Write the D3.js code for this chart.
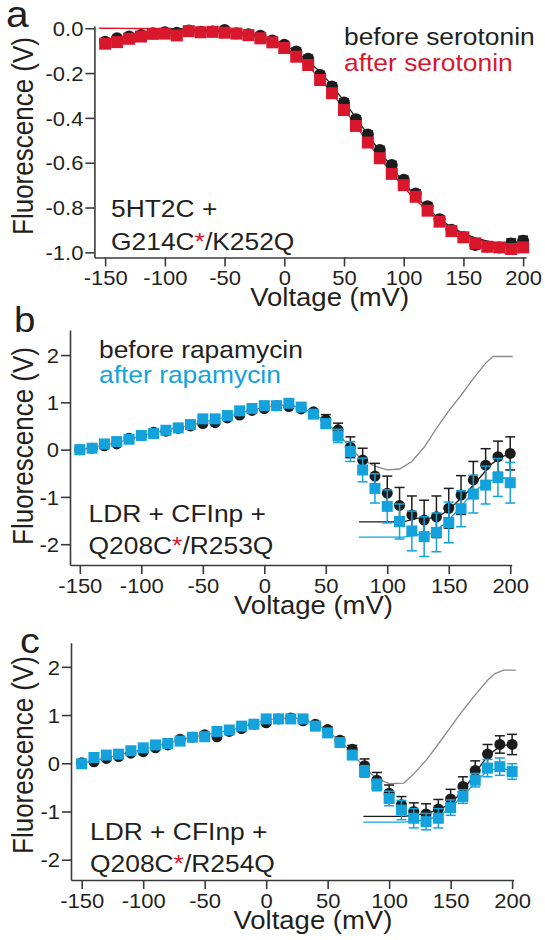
<!DOCTYPE html>
<html>
<head>
<meta charset="utf-8">
<script src="https://cdn.jsdelivr.net/npm/d3@7"></script>
<style>
  html, body { margin: 0; padding: 0; background: #fff; }
  svg { display: block; font-family: "Liberation Sans", Arial, Helvetica, sans-serif; }
</style>
</head>
<body>
<svg id="fig" width="545" height="940"></svg>
<script>
// ---- step voltages (mV) ----
const volts = [-150,-140,-130,-120,-110,-100,-90,-80,-70,-60,-50,-40,-30,-20,-10,0,10,20,30,40,50,60,70,80,90,100,110,120,130,140,150,160,170,180,190,200];

// ---- tick marks ----
const xTicks = [-150,-100,-50,0,50,100,150,200];
const xTickLabels = ["-150","-100","-50","0","50","100","150","200"];
const yTicksA = [0,-0.2,-0.4,-0.6,-0.8,-1.0];
const yTickLabelsA = ["0.0","-0.2","-0.4","-0.6","-0.8","-1.0"];
const yTicksBC = [2,1,0,-1,-2];
const yTickLabelsBC = ["2","1","0","-1","-2"];

// ---- panel a: 5HT2C + G214C*/K252Q ----
const beforeSerotonin = [-0.060,-0.045,-0.037,-0.030,-0.022,-0.018,-0.020,-0.010,-0.016,-0.015,-0.008,-0.022,-0.027,-0.033,-0.055,-0.074,-0.104,-0.136,-0.209,-0.260,-0.331,-0.406,-0.474,-0.543,-0.610,-0.676,-0.737,-0.794,-0.852,-0.899,-0.932,-0.967,-0.974,-0.978,-0.960,-0.948];
const beforeSerotoninErr = [0.012,0.012,0.012,0.012,0.012,0.012,0.012,0.012,0.012,0.012,0.012,0.012,0.012,0.012,0.014,0.014,0.015,0.016,0.016,0.016,0.016,0.016,0.016,0.016,0.016,0.016,0.016,0.016,0.016,0.016,0.018,0.018,0.018,0.018,0.020,0.020];
const afterSerotonin = [-0.069,-0.062,-0.047,-0.037,-0.025,-0.024,-0.032,-0.013,-0.018,-0.016,-0.020,-0.024,-0.031,-0.045,-0.063,-0.088,-0.127,-0.164,-0.231,-0.290,-0.365,-0.436,-0.510,-0.580,-0.650,-0.700,-0.752,-0.814,-0.863,-0.905,-0.933,-0.960,-0.975,-0.978,-0.985,-0.978];
const afterSerotoninErr = [0.010,0.010,0.010,0.010,0.010,0.010,0.010,0.010,0.010,0.010,0.010,0.010,0.010,0.010,0.010,0.010,0.010,0.010,0.010,0.010,0.010,0.010,0.010,0.010,0.010,0.010,0.010,0.010,0.010,0.010,0.010,0.010,0.010,0.010,0.010,0.010];
// Boltzmann fits
const fitBeforeSerV = [-100,-80,-60,-40,-20,-10,0,10,20,30,40,50,60,70,80,90,100,110,120,130,140,150,160,170,180,190,200];
const fitBeforeSer  = [-0.002,-0.004,-0.008,-0.016,-0.035,-0.050,-0.075,-0.105,-0.145,-0.195,-0.255,-0.325,-0.400,-0.475,-0.550,-0.620,-0.690,-0.750,-0.805,-0.850,-0.888,-0.915,-0.935,-0.950,-0.960,-0.965,-0.970];
const fitAfterSerV = [-155,-100,-80,-60,-40,-20,-10,0,10,20,30,40,50,60,70,80,90,100,110,120,130,140,150,160,170,180,190,200];
const fitAfterSer  = [0.000,-0.002,-0.005,-0.010,-0.020,-0.042,-0.060,-0.088,-0.125,-0.170,-0.225,-0.290,-0.360,-0.435,-0.510,-0.580,-0.645,-0.710,-0.765,-0.815,-0.858,-0.893,-0.920,-0.940,-0.955,-0.965,-0.972,-0.977];

// ---- panel b: LDR + CFInp + Q208C*/R253Q ----
const beforeRapB = [0.00,0.03,0.08,0.12,0.24,0.30,0.37,0.39,0.45,0.50,0.55,0.57,0.67,0.73,0.83,0.87,0.93,0.91,0.86,0.80,0.63,0.42,0.05,-0.22,-0.56,-0.92,-1.18,-1.38,-1.49,-1.42,-1.24,-0.96,-0.64,-0.33,-0.15,-0.08];
const beforeRapBErr = [0.03,0.03,0.03,0.03,0.03,0.03,0.03,0.03,0.03,0.03,0.03,0.03,0.03,0.03,0.03,0.03,0.03,0.03,0.04,0.05,0.11,0.14,0.22,0.25,0.27,0.36,0.38,0.40,0.42,0.44,0.42,0.41,0.39,0.35,0.33,0.35];
const afterRapB = [0.00,0.03,0.12,0.17,0.22,0.30,0.34,0.41,0.46,0.53,0.65,0.65,0.72,0.82,0.87,0.93,0.93,0.98,0.90,0.75,0.55,0.29,-0.04,-0.43,-0.82,-1.20,-1.52,-1.72,-1.84,-1.75,-1.54,-1.25,-0.94,-0.75,-0.59,-0.70];
const afterRapBErr = [0.03,0.03,0.03,0.03,0.03,0.03,0.03,0.03,0.03,0.03,0.03,0.03,0.03,0.03,0.03,0.03,0.03,0.03,0.04,0.06,0.10,0.14,0.21,0.25,0.31,0.35,0.37,0.42,0.42,0.41,0.43,0.38,0.40,0.40,0.40,0.43];
const refBV = [-150,-120,-90,-60,-30,0,20,30,40,50,60,70,80,90,100,110,120,130,140,150,160,170,180,186,202];
const refB  = [0.00,0.15,0.36,0.52,0.70,0.90,0.95,0.88,0.78,0.58,0.35,0.03,-0.22,-0.35,-0.43,-0.41,-0.25,0.05,0.45,0.82,1.15,1.50,1.83,1.97,1.97];
const fitBeforeBV = [77,113,125,135,145,155,165,175,185,195,203];
const fitBeforeB  = [-1.53,-1.53,-1.45,-1.45,-1.36,-1.15,-0.90,-0.60,-0.30,-0.13,-0.07];
const fitAfterBV = [77,113,125,135,145,155,165,175,185,195,203];
const fitAfterB  = [-1.85,-1.85,-1.80,-1.78,-1.60,-1.35,-1.05,-0.80,-0.65,-0.60,-0.65];

// ---- panel c: LDR + CFInp + Q208C*/R254Q ----
const beforeRapC = [0.01,0.03,0.10,0.14,0.21,0.24,0.32,0.38,0.50,0.54,0.59,0.55,0.66,0.72,0.81,0.84,0.92,0.94,0.88,0.81,0.70,0.48,0.29,-0.05,-0.35,-0.62,-0.86,-1.00,-1.05,-0.95,-0.74,-0.48,-0.15,0.19,0.39,0.39];
const beforeRapCErr = [0.03,0.03,0.03,0.03,0.03,0.03,0.03,0.03,0.03,0.03,0.03,0.03,0.03,0.03,0.03,0.03,0.03,0.03,0.03,0.04,0.05,0.06,0.08,0.14,0.16,0.17,0.17,0.18,0.21,0.20,0.20,0.20,0.20,0.20,0.18,0.21];
const afterRapC = [-0.01,0.12,0.17,0.19,0.26,0.32,0.38,0.41,0.46,0.54,0.55,0.66,0.69,0.77,0.81,0.92,0.92,0.92,0.92,0.77,0.63,0.43,0.17,-0.17,-0.45,-0.73,-0.97,-1.14,-1.21,-1.14,-0.92,-0.69,-0.35,-0.10,-0.07,-0.17];
const afterRapCErr = [0.03,0.03,0.03,0.03,0.03,0.03,0.03,0.03,0.03,0.03,0.03,0.03,0.03,0.03,0.03,0.03,0.03,0.03,0.03,0.04,0.05,0.06,0.08,0.12,0.12,0.15,0.20,0.20,0.17,0.20,0.16,0.14,0.14,0.18,0.18,0.16];
const refCV = [-150,-120,-90,-60,-30,0,20,30,40,50,60,70,80,90,100,112,120,130,140,150,160,170,180,186,193,203];
const refC  = [0.00,0.17,0.35,0.54,0.68,0.90,0.94,0.92,0.80,0.67,0.46,0.22,-0.10,-0.32,-0.42,-0.41,-0.22,0.06,0.40,0.75,1.10,1.42,1.72,1.86,1.93,1.93];
const fitBeforeCV = [79,112,120,130,140,150,160,170,180,190,200];
const fitBeforeC  = [-1.10,-1.10,-1.08,-1.04,-0.97,-0.83,-0.58,-0.20,0.15,0.35,0.40];
const fitAfterCV = [79,112,120,130,140,150,160,170,180,190,200];
const fitAfterC  = [-1.22,-1.22,-1.20,-1.18,-1.10,-0.92,-0.68,-0.40,-0.15,-0.10,-0.15];

// ---- styling ----
const RED = "#d8172d", BLUE = "#14a2dc", BLK = "#1c1c1c", GRAY = "#8a8a8a";
const AXIS = "#3a3a3a", TXT = "#231f20";
const SX = 1.1;            // horizontal text stretch
const FONT = '"Liberation Sans", Arial, Helvetica, sans-serif';

const svg = d3.select("#fig");

function label(parent, x, y, str, size, color, anchor) {
  return parent.append("text")
    .attr("transform", `translate(${x},${y}) scale(${SX},1)`)
    .attr("font-size", size)
    .attr("fill", color || TXT)
    .attr("text-anchor", anchor || "start")
    .text(str);
}

function starLabel(parent, x, y, pre, post, size) {
  const t = parent.append("text")
    .attr("transform", `translate(${x},${y}) scale(${SX},1)`)
    .attr("font-size", size).attr("fill", TXT);
  t.append("tspan").text(pre);
  t.append("tspan").attr("fill", RED).text("*");
  t.append("tspan").text(post);
}

function drawPanel(cfg) {
  const g = svg.append("g");
  const x = d3.scaleLinear().domain(cfg.xDomain).range(cfg.xRange);
  const y = d3.scaleLinear().domain(cfg.yDomain).range(cfg.yRange);

  // axes
  const gx = g.append("g")
    .attr("transform", `translate(0,${cfg.yRange[0]})`)
    .call(d3.axisBottom(x).tickValues(xTicks).tickFormat((d, i) => xTickLabels[i])
      .tickSizeInner(9).tickSizeOuter(0));
  const gy = g.append("g")
    .attr("transform", `translate(${cfg.xRange[0]},0)`)
    .call(d3.axisLeft(y).tickValues(cfg.yTicks).tickFormat((d, i) => cfg.yTickLabels[i])
      .tickSizeInner(9).tickSizeOuter(0));
  [gx, gy].forEach(a => {
    a.attr("font-family", FONT).attr("font-size", 20);
    a.select(".domain").attr("stroke", AXIS).attr("stroke-width", 1.6);
    a.selectAll(".tick line").attr("stroke", AXIS).attr("stroke-width", 1.6);
    a.selectAll(".tick text").attr("fill", TXT);
  });
  gx.selectAll(".tick text").attr("y", 0).attr("dy", null)
    .attr("transform", `translate(0,27.5) scale(${SX},1)`);
  gy.selectAll(".tick text").attr("x", 0).attr("dy", "0.36em")
    .attr("transform", `translate(-11,0) scale(${SX},1)`);

  // axis titles
  g.append("text")
    .attr("transform", `translate(33,${cfg.yTitleY}) scale(${SX},1) rotate(-90)`)
    .attr("font-size", 26).attr("fill", TXT).attr("text-anchor", "middle")
    .text("Fluorescence (V)");
  label(g, x(cfg.xTitleV), cfg.yRange[0] + 48.5, "Voltage (mV)", 25, TXT, "middle");

  // lines
  const line = d3.line().x(d => x(d[0])).y(d => y(d[1]));
  cfg.lines.forEach(l => {
    g.append("path")
      .attr("d", line(l.v.map((v, i) => [v, l.f[i]])))
      .attr("fill", "none").attr("stroke", l.color).attr("stroke-width", l.w || 1.3);
  });

  // series: error bars then markers
  cfg.series.forEach(s => {
    const data = volts.map((v, i) => ({ v, f: s.f[i], e: s.e[i] }));
    const eb = g.append("g").attr("stroke", s.color).attr("stroke-width", 1.5);
    const cap = 5;
    data.forEach(d => {
      const y0 = y(d.f - d.e), y1 = y(d.f + d.e), xx = x(d.v);
      eb.append("line").attr("x1", xx).attr("x2", xx).attr("y1", y0).attr("y2", y1);
      eb.append("line").attr("x1", xx - cap).attr("x2", xx + cap).attr("y1", y0).attr("y2", y0);
      eb.append("line").attr("x1", xx - cap).attr("x2", xx + cap).attr("y1", y1).attr("y2", y1);
    });
    if (s.shape === "circle") {
      g.append("g").selectAll("circle").data(data).join("circle")
        .attr("cx", d => x(d.v)).attr("cy", d => y(d.f)).attr("r", s.size / 2)
        .attr("fill", s.color);
    } else {
      g.append("g").selectAll("rect").data(data).join("rect")
        .attr("x", d => x(d.v) - s.size / 2).attr("y", d => y(d.f) - s.size / 2)
        .attr("width", s.size).attr("height", s.size)
        .attr("fill", s.color);
    }
  });

  // panel letter
  label(svg, cfg.letter[1], cfg.letter[2], cfg.letter[0], cfg.letter[3] || 34, TXT);
  return g;
}

// panel a
const gA = drawPanel({
  xDomain: [-159, 202.4], xRange: [94.4, 526],
  yDomain: [-1.023, 0.01], yRange: [257.5, 26],
  yTicks: yTicksA, yTickLabels: yTickLabelsA,
  yTitleY: 136, xTitleV: 38,
  letter: ["a", 6, 27, 37],
  lines: [
    { v: fitAfterSerV, f: fitAfterSer, color: RED },
    { v: fitBeforeSerV, f: fitBeforeSer, color: BLK }
  ],
  series: [
    { f: beforeSerotonin, e: beforeSerotoninErr, color: BLK, shape: "circle", size: 12 },
    { f: afterSerotonin, e: afterSerotoninErr, color: RED, shape: "square", size: 12 }
  ]
});
label(gA, 344, 45, "before serotonin", 24, TXT);
label(gA, 344, 70.5, "after serotonin", 24, RED);
label(gA, 111, 217, "5HT2C +", 24, TXT);
starLabel(gA, 111, 250, "G214C", "/K252Q", 24);

// panel b
const gB = drawPanel({
  xDomain: [-158, 201.2], xRange: [70, 511.7],
  yDomain: [-2.44, 2.53], yRange: [565, 330],
  yTicks: yTicksBC, yTickLabels: yTickLabelsBC,
  yTitleY: 446, xTitleV: 40,
  letter: ["b", 14, 332, 35],
  lines: [
    { v: refBV, f: refB, color: GRAY },
    { v: fitBeforeBV, f: fitBeforeB, color: BLK },
    { v: fitAfterBV, f: fitAfterB, color: BLUE }
  ],
  series: [
    { f: beforeRapB, e: beforeRapBErr, color: BLK, shape: "circle", size: 11 },
    { f: afterRapB, e: afterRapBErr, color: BLUE, shape: "square", size: 11 }
  ]
});
label(gB, 99, 357.5, "before rapamycin", 24, TXT);
label(gB, 99, 382.5, "after rapamycin", 24, BLUE);
label(gB, 88.5, 521.5, "LDR + CFInp +", 24, TXT);
starLabel(gB, 88.5, 553.5, "Q208C", "/R253Q", 24);

// panel c
const gC = drawPanel({
  xDomain: [-158.7, 201.2], xRange: [71, 513.6],
  yDomain: [-2.42, 2.5], yRange: [880, 642.7],
  yTicks: yTicksBC, yTickLabels: yTickLabelsBC,
  yTitleY: 755, xTitleV: 38,
  letter: ["c", 20, 653, 36],
  lines: [
    { v: refCV, f: refC, color: GRAY },
    { v: fitBeforeCV, f: fitBeforeC, color: BLK },
    { v: fitAfterCV, f: fitAfterC, color: BLUE }
  ],
  series: [
    { f: beforeRapC, e: beforeRapCErr, color: BLK, shape: "circle", size: 11 },
    { f: afterRapC, e: afterRapCErr, color: BLUE, shape: "square", size: 11 }
  ]
});
label(gC, 90, 839.5, "LDR + CFInp +", 24, TXT);
starLabel(gC, 90, 871.5, "Q208C", "/R254Q", 24);
</script>
</body>
</html>
